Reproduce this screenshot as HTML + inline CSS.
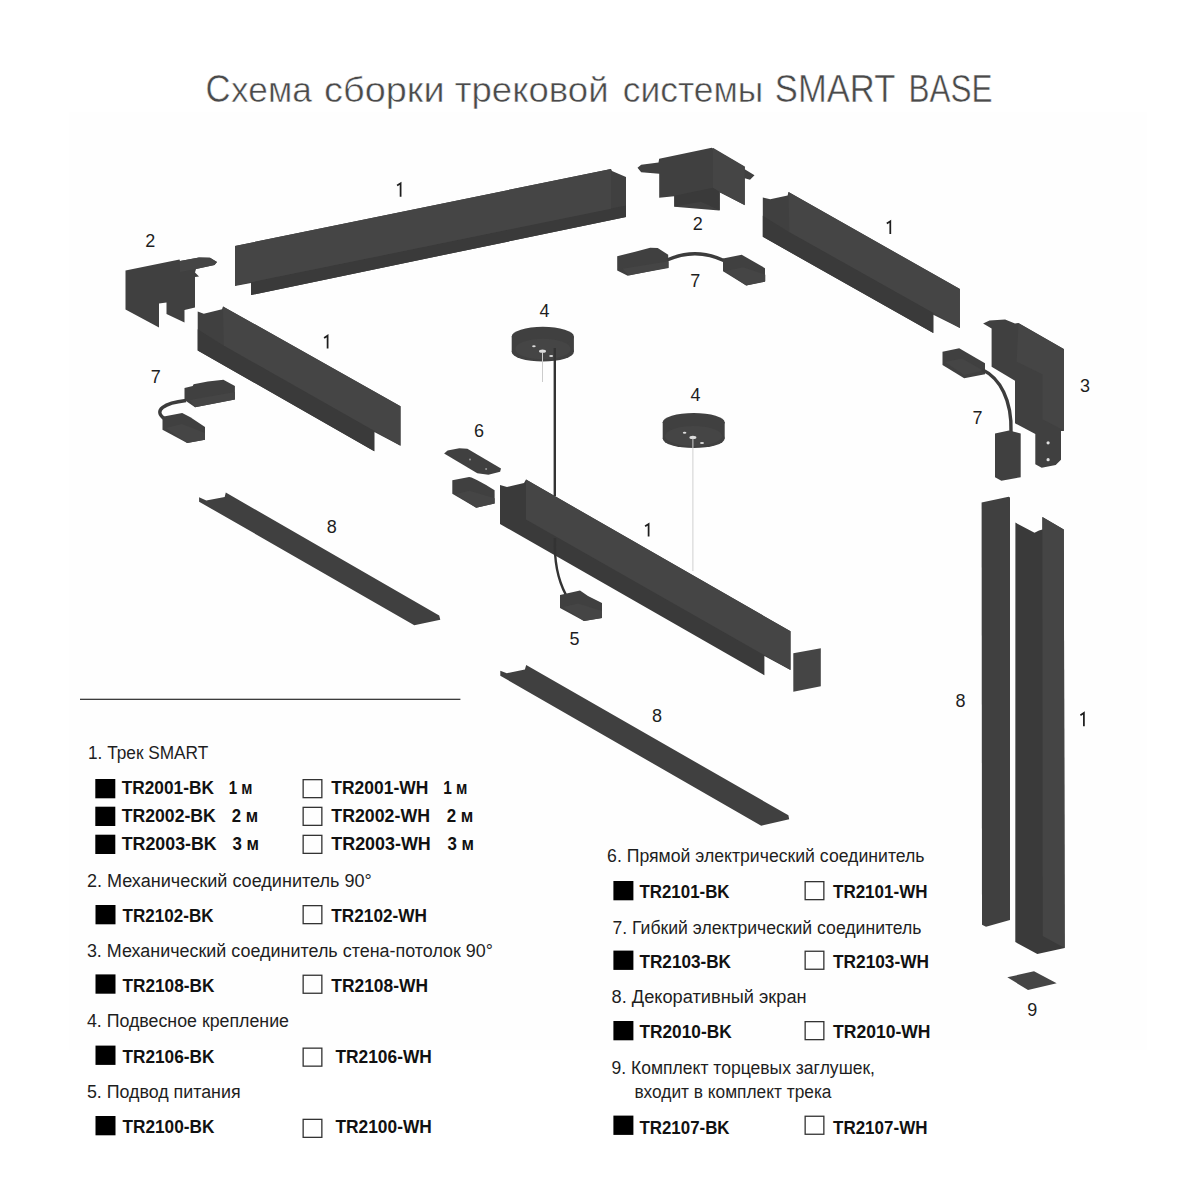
<!DOCTYPE html>
<html><head><meta charset="utf-8">
<style>
html,body{margin:0;padding:0;background:#fff;width:1200px;height:1200px;overflow:hidden}
svg{display:block}
text{font-family:"Liberation Sans",sans-serif}
.t{fill:#1e1e1e;font-size:18px}
.ti{fill:#4a4a4a;stroke:#fff;stroke-width:0.5px}
.b{fill:#111;font-size:18px;font-weight:bold}
.n{fill:#1e1e1e;font-size:18px;text-anchor:middle}
.d{fill:#404040}
.l{fill:#454545}
.k{fill:#3a3a3a}
</style></head>
<body>
<svg width="1200" height="1200" viewBox="0 0 1200 1200">
<rect x="0" y="0" width="1200" height="1200" fill="#fff"/>
<rect x="69" y="112" width="1078" height="938" fill="#fefefe"/>
<text class="ti" x="205.5" y="102.4" font-size="38" textLength="25.1" lengthAdjust="spacingAndGlyphs">С</text>
<text class="ti" x="231.10000000000002" y="102.4" font-size="35" textLength="80.7" lengthAdjust="spacingAndGlyphs">хема</text>
<text class="ti" x="324.1" y="102.4" font-size="35" textLength="120.5" lengthAdjust="spacingAndGlyphs">сборки</text>
<text class="ti" x="454.8" y="102.4" font-size="35" textLength="153.8" lengthAdjust="spacingAndGlyphs">трековой</text>
<text class="ti" x="622.8" y="102.4" font-size="35" textLength="140.5" lengthAdjust="spacingAndGlyphs">системы</text>
<text class="ti" x="774.8" y="102.4" font-size="38" textLength="120.5" lengthAdjust="spacingAndGlyphs">SMART</text>
<text class="ti" x="908.4" y="102.4" font-size="38" textLength="84.0" lengthAdjust="spacingAndGlyphs">BASE</text>
<polygon class="d" points="235,246 611,169 612,171 626,177 626,217 251,295 251,283 235,286" />
<polygon class="k" points="251,282.2 611,208.5 626,205.5 626,217 251,295" />
<polygon class="l" points="235,246 611,169 611,208.7 235,285.5" />
<polygon class="d" points="125.5,270.5 179.5,259.5 180,261 199,257.5 210,257.8 217,262 214.5,265 196,269 195,272.5 199,276.5 195,277 195,307.5 184.5,310 184.5,322.5 166.5,314 166.5,302.5 159,303.5 159,327.5 125.5,309.5" />
<polygon class="l" points="180,261 199,257.5 210,257.8 217,262 214.5,265 196,269 180,272" />
<polygon class="d" points="197.7,311.4 203.8,313.8 222,309.2 223,306.4 400.5,406.3 400.5,445.8 374.3,432 374.3,451.3 197.7,350.4" />
<polygon class="l" points="223,306.4 400.5,406.3 400.5,445.8 223.9,345.8" />
<polygon class="k" points="197.7,329.3 223.9,345.8 374.3,431 374.3,451.3 197.7,350.4" />
<polygon class="d" points="184.5,388 192.7,386.1 193.6,384.3 207.8,381.5 223.4,379.7 234.9,386.1 234.9,399.4 195,407.2 184.5,399.9" />
<path d="M186,400.5 C165,403 152,410 165,419" stroke="#3c3c3c" stroke-width="3.4" fill="none"/>
<polygon class="d" points="162.5,416.8 182.2,413 190.4,417.3 205,426.9 205,439.8 187.2,443 162.5,429.7" />
<polygon class="l" points="166,428 182,424 205,433 205,439.8 187.2,443" />
<polygon class="l" points="190,400 234.9,392 234.9,399.4 195,407.2" />
<polygon class="d" points="637.5,167.7 641.2,164.7 658.5,162.5 659.2,158.7 711.7,147.8 744.7,167 744.7,169.2 754.5,175.2 750,179.7 744.7,178.2 744.7,205.2 719.2,191.7 719.2,210.5 674.2,206.7 674.2,196.2 659.2,197.7 659.2,173.7 641.2,172.2" />
<polygon class="l" points="712.9,147.8 744.8,166.5 744.8,205 719.9,192.5 712.9,187.7" />
<polygon class="k" points="674.4,195.8 712.9,187.7 719.9,192 719.9,210.4 701,201.8 674.4,206.6" />
<polygon class="d" points="617.2,256.2 635.2,251.7 650.2,247.7 657.7,248 668.2,254.7 668.2,267.5 627.7,275.7 617.2,270.5" />
<path d="M667,260 Q696,247 725,261" stroke="#3c3c3c" stroke-width="3.4" fill="none"/>
<polygon class="d" points="723,258.5 741.7,254.7 765,268.2 765,281.7 746.2,285.5 723,271.2" />
<polygon class="l" points="724.7,271.3 743.3,267.3 765.3,274.7 765.3,281.3 746.2,285.5" />
<polygon class="l" points="622.7,268.7 668.7,261.3 668.7,268 628.7,275.3" />
<polygon class="d" points="762.8,197.4 770.2,199.3 787.6,195.6 788.5,191.9 959.9,289.1 959.9,328.1 933.3,314.8 933.3,333.1 762.8,236.8" />
<polygon class="l" points="788.5,191.9 959.9,289.1 959.9,328.1 789.4,232.2" />
<polygon class="k" points="762.8,215.7 789.4,232.2 933.3,313.1 933.3,333.1 762.8,236.8" />
<polygon class="d" points="983.1,323.5 989.5,320.6 1005.1,319.6 1015,323.5 1018.5,323 1063.9,349 1063.9,431.1 1061,431.1 1061,459.7 1055.7,464.9 1041.7,467.8 1035.3,464.3 1035.3,434 1015,423.3 1015,380.8 991.6,366.7 991.6,328.4" />
<polygon class="l" points="1018.5,323.2 1064,349.2 1064,430.5 1042.5,419.2 1042.5,374.2 1016.7,361.7" />
<circle cx="1048.1" cy="442.8" r="1.6" fill="#e0e0e0"/><circle cx="1048.1" cy="459.7" r="1.6" fill="#e0e0e0"/>
<polygon class="d" points="942.5,351.7 959.2,348.3 985,363.3 985,374.2 964.2,378.3 942.5,365" />
<polygon class="l" points="945,362 962,358.5 983,370.5 964.2,375" />
<path d="M982,369.5 C1000,378 1012,400 1011,432" stroke="#3c3c3c" stroke-width="3.4" fill="none"/>
<polygon class="d" points="995,433.4 1009,430.5 1020.7,433.4 1020.7,477.2 1001.4,480.7 995,477.2" />
<polygon class="d" points="981.6,502.4 1008.6,496.8 1010,497.5 1010,920 986,926.7 982,924.7" />
<polygon class="k" points="1015.4,522.6 1034.5,532.8 1039,530.5 1042.4,529.4 1042.4,517 1063.8,529.4 1064.7,948 1037.3,954 1015.3,942" />
<polygon class="l" points="1042.4,517 1063.8,529.4 1064.7,948 1042.7,936" />
<polygon class="l" points="1007.3,977.3 1034,971.3 1056.7,983.3 1028,990" />
<rect x="511.7" y="336.6" width="62.2" height="15.2" class="d"/><ellipse cx="542.8" cy="336.6" rx="31.1" ry="9.8" class="d"/><ellipse cx="542.8" cy="351.8" rx="31.1" ry="9.8" class="d"/><ellipse cx="543" cy="349" rx="27.6" ry="10.3" class="l"/>
<ellipse cx="533.9" cy="346.3" rx="1.8" ry="1" fill="#ddd"/><ellipse cx="542.5" cy="351.2" rx="3.5" ry="1.6" fill="#ddd"/><ellipse cx="551.2" cy="356.1" rx="2" ry="1" fill="#ddd"/>
<line x1="542.5" y1="352" x2="542.5" y2="382" stroke="#ccc" stroke-width="1"/>
<line x1="554.8" y1="348" x2="554.8" y2="496" stroke="#333" stroke-width="2.4"/>
<rect x="662.7" y="422.3" width="62" height="16.2" class="d"/><ellipse cx="693.7" cy="422.3" rx="31" ry="9.3" class="d"/><ellipse cx="693.7" cy="438.5" rx="31" ry="9.6" class="d"/><ellipse cx="693.6" cy="436" rx="28.5" ry="10" class="l"/>
<ellipse cx="684.6" cy="432.7" rx="1.8" ry="1" fill="#ddd"/><ellipse cx="692.9" cy="437.4" rx="3.5" ry="1.6" fill="#ddd"/><ellipse cx="702" cy="442.9" rx="2" ry="1" fill="#ddd"/>
<line x1="692.9" y1="438" x2="692.9" y2="571" stroke="#d0d0d0" stroke-width="1"/>
<polygon class="d" points="444.1,453.4 447.6,450.5 459.3,448.2 467.4,448.8 501,468.6 500.1,471.8 488.4,474.7 477.3,473.3" />
<circle cx="470" cy="459.5" r="1" fill="#999"/><circle cx="486.1" cy="468.9" r="1" fill="#999"/>
<polygon class="d" points="452.3,480.3 469.2,477 471.5,477.6 477.3,480.3 486.1,484.9 494.6,490.2 494.6,503.6 476.2,507.7 452.3,493.7" />
<polygon class="l" points="455.2,494.3 469.2,490.8 494.6,498.3 494.6,503.6 476.2,507.7" />
<polygon class="k" points="500,485 507,487 524,483 526,479.6 790.5,631.3 790.5,670 764.4,656 764.4,675.3 500,524" />
<polygon class="l" points="526,479.6 790.5,631.3 790.5,670 526,519.6" />
<path d="M555,538 C554,560 558,580 566,595" stroke="#333" stroke-width="2.4" fill="none"/>
<polygon class="d" points="560,595 580,590.4 588,596 602,603 602,618 584,621 560,608" />
<polygon class="l" points="563,607 578,603.5 602,611 602,618 584,621" />
<polygon class="l" points="793.3,653.3 820.8,648.3 820.8,686.3 793.3,691.8" />
<polygon class="d" points="199.1,497.3 206.3,500.6 224.7,496.9 225.8,492.6 439.2,615.4 440.3,619.8 414.3,625.2 199.1,501.7" />
<polygon class="d" points="500.3,670.7 506.8,673.2 524.9,669.4 526.2,665 788.4,815.3 789.2,819.2 761.2,825.7 500.3,675.8" />
<text class="n" x="150.2" y="246.5">2</text>
<text class="n" x="155.8" y="382.5">7</text>
<text class="n" x="697.8" y="230">2</text>
<text class="n" x="695.2" y="287">7</text>
<text class="n" x="1085.1" y="391.9">3</text>
<text class="n" x="977.4" y="424">7</text>
<text class="n" x="544.4" y="316.5">4</text>
<text class="n" x="695.6" y="400.8">4</text>
<text class="n" x="479" y="437">6</text>
<text class="n" x="574.5" y="645">5</text>
<text class="n" x="331.8" y="533">8</text>
<text class="n" x="657" y="721.8">8</text>
<text class="n" x="960.6" y="706.5">8</text>
<text class="n" x="1032.3" y="1016">9</text>
<path d="M397.1,185.6 L400.6,183.3 V196.7" stroke="#1e1e1e" stroke-width="1.75" fill="none"/>
<path d="M324.1,338.0 L327.6,335.7 V348.6" stroke="#1e1e1e" stroke-width="1.75" fill="none"/>
<path d="M886.8,223.6 L890.3,221.3 V234.0" stroke="#1e1e1e" stroke-width="1.75" fill="none"/>
<path d="M645.1,526.3 L648.6,524.0 V536.4" stroke="#1e1e1e" stroke-width="1.75" fill="none"/>
<path d="M1080.4,715.2 L1083.9,712.9 V726.2" stroke="#1e1e1e" stroke-width="1.75" fill="none"/>
<rect x="80" y="698.7" width="380.4" height="1.25" fill="#333"/>
<text class="t" x="88" y="758.7" textLength="120.3" lengthAdjust="spacingAndGlyphs">1. Трек SMART</text>
<rect x="95.3" y="779" width="20" height="19.3" fill="#000"/>
<text class="b" x="121.7" y="794" textLength="92.3" lengthAdjust="spacingAndGlyphs">TR2001-BK</text>
<text class="b" x="228.8" y="794" textLength="23.7" lengthAdjust="spacingAndGlyphs">1 м</text>
<rect x="303.15" y="779.65" width="18.7" height="18.0" fill="none" stroke="#333" stroke-width="1.3"/>
<text class="b" x="331.3" y="794" textLength="97.0" lengthAdjust="spacingAndGlyphs">TR2001-WH</text>
<text class="b" x="443.3" y="794" textLength="24.2" lengthAdjust="spacingAndGlyphs">1 м</text>
<rect x="95.3" y="806.7" width="20" height="19.3" fill="#000"/>
<text class="b" x="121.7" y="822" textLength="94.1" lengthAdjust="spacingAndGlyphs">TR2002-BK</text>
<text class="b" x="231.7" y="822" textLength="26.3" lengthAdjust="spacingAndGlyphs">2 м</text>
<rect x="303.15" y="807.35" width="18.7" height="18.0" fill="none" stroke="#333" stroke-width="1.3"/>
<text class="b" x="331.3" y="822" textLength="98.7" lengthAdjust="spacingAndGlyphs">TR2002-WH</text>
<text class="b" x="446.7" y="822" textLength="26.6" lengthAdjust="spacingAndGlyphs">2 м</text>
<rect x="95.3" y="834.7" width="20" height="19.3" fill="#000"/>
<text class="b" x="121.7" y="850.3" textLength="95.0" lengthAdjust="spacingAndGlyphs">TR2003-BK</text>
<text class="b" x="232.5" y="850.3" textLength="26.5" lengthAdjust="spacingAndGlyphs">3 м</text>
<rect x="303.15" y="835.35" width="18.7" height="18.0" fill="none" stroke="#333" stroke-width="1.3"/>
<text class="b" x="331.3" y="850.3" textLength="99.5" lengthAdjust="spacingAndGlyphs">TR2003-WH</text>
<text class="b" x="447.5" y="850.3" textLength="26.5" lengthAdjust="spacingAndGlyphs">3 м</text>
<text class="t" x="86.9" y="887" textLength="284.9" lengthAdjust="spacingAndGlyphs">2. Механический соединитель 90°</text>
<rect x="95.5" y="905" width="20" height="19.3" fill="#000"/>
<text class="b" x="122.5" y="921.9" textLength="91.1" lengthAdjust="spacingAndGlyphs">TR2102-BK</text>
<rect x="303.15" y="905.65" width="18.7" height="18.0" fill="none" stroke="#333" stroke-width="1.3"/>
<text class="b" x="331.3" y="921.9" textLength="95.7" lengthAdjust="spacingAndGlyphs">TR2102-WH</text>
<text class="t" x="86.9" y="956.7" textLength="406.1" lengthAdjust="spacingAndGlyphs">3. Механический соединитель стена-потолок 90°</text>
<rect x="95.5" y="974.4" width="20" height="19.3" fill="#000"/>
<text class="b" x="122.5" y="992" textLength="91.9" lengthAdjust="spacingAndGlyphs">TR2108-BK</text>
<rect x="303.15" y="975.25" width="18.7" height="18.0" fill="none" stroke="#333" stroke-width="1.3"/>
<text class="b" x="331.3" y="992" textLength="96.7" lengthAdjust="spacingAndGlyphs">TR2108-WH</text>
<text class="t" x="86.9" y="1026.9" textLength="202.1" lengthAdjust="spacingAndGlyphs">4. Подвесное крепление</text>
<rect x="95.5" y="1045.6" width="20" height="19.3" fill="#000"/>
<text class="b" x="122.5" y="1062.5" textLength="91.9" lengthAdjust="spacingAndGlyphs">TR2106-BK</text>
<rect x="303.15" y="1048.15" width="18.7" height="18.0" fill="none" stroke="#333" stroke-width="1.3"/>
<text class="b" x="335.5" y="1062.5" textLength="96.3" lengthAdjust="spacingAndGlyphs">TR2106-WH</text>
<text class="t" x="86.9" y="1098" textLength="153.7" lengthAdjust="spacingAndGlyphs">5. Подвод питания</text>
<rect x="95.5" y="1116" width="20" height="19.3" fill="#000"/>
<text class="b" x="122.5" y="1133" textLength="91.9" lengthAdjust="spacingAndGlyphs">TR2100-BK</text>
<rect x="303.15" y="1119.3500000000001" width="18.7" height="18.0" fill="none" stroke="#333" stroke-width="1.3"/>
<text class="b" x="335.5" y="1133" textLength="96.3" lengthAdjust="spacingAndGlyphs">TR2100-WH</text>
<text class="t" x="607.1" y="862.4" textLength="317.4" lengthAdjust="spacingAndGlyphs">6. Прямой электрический соединитель</text>
<rect x="613.4" y="881" width="20" height="19.3" fill="#000"/>
<text class="b" x="639.5" y="897.5" textLength="90.0" lengthAdjust="spacingAndGlyphs">TR2101-BK</text>
<rect x="805.15" y="881.65" width="18.7" height="18.0" fill="none" stroke="#333" stroke-width="1.3"/>
<text class="b" x="833" y="897.5" textLength="94.5" lengthAdjust="spacingAndGlyphs">TR2101-WH</text>
<text class="t" x="612.5" y="933.5" textLength="309.0" lengthAdjust="spacingAndGlyphs">7. Гибкий электрический соединитель</text>
<rect x="613.4" y="950.6" width="20" height="19.3" fill="#000"/>
<text class="b" x="639.5" y="968" textLength="91.5" lengthAdjust="spacingAndGlyphs">TR2103-BK</text>
<rect x="805.15" y="951.25" width="18.7" height="18.0" fill="none" stroke="#333" stroke-width="1.3"/>
<text class="b" x="833" y="968" textLength="96.0" lengthAdjust="spacingAndGlyphs">TR2103-WH</text>
<text class="t" x="611.6" y="1003.4" textLength="195.0" lengthAdjust="spacingAndGlyphs">8. Декоративный экран</text>
<rect x="613.4" y="1021" width="20" height="19.3" fill="#000"/>
<text class="b" x="639.5" y="1038" textLength="92.1" lengthAdjust="spacingAndGlyphs">TR2010-BK</text>
<rect x="805.15" y="1021.65" width="18.7" height="18.0" fill="none" stroke="#333" stroke-width="1.3"/>
<text class="b" x="833" y="1038" textLength="97.5" lengthAdjust="spacingAndGlyphs">TR2010-WH</text>
<text class="t" x="611.6" y="1073.6" textLength="263.4" lengthAdjust="spacingAndGlyphs">9. Комплект торцевых заглушек,</text>
<text class="t" x="634.4" y="1098" textLength="197.1" lengthAdjust="spacingAndGlyphs">входит в комплект трека</text>
<rect x="613.4" y="1115.6" width="20" height="19.3" fill="#000"/>
<text class="b" x="639.5" y="1133.6" textLength="90.0" lengthAdjust="spacingAndGlyphs">TR2107-BK</text>
<rect x="805.15" y="1116.25" width="18.7" height="18.0" fill="none" stroke="#333" stroke-width="1.3"/>
<text class="b" x="833" y="1133.6" textLength="94.5" lengthAdjust="spacingAndGlyphs">TR2107-WH</text>
</svg>
</body></html>
